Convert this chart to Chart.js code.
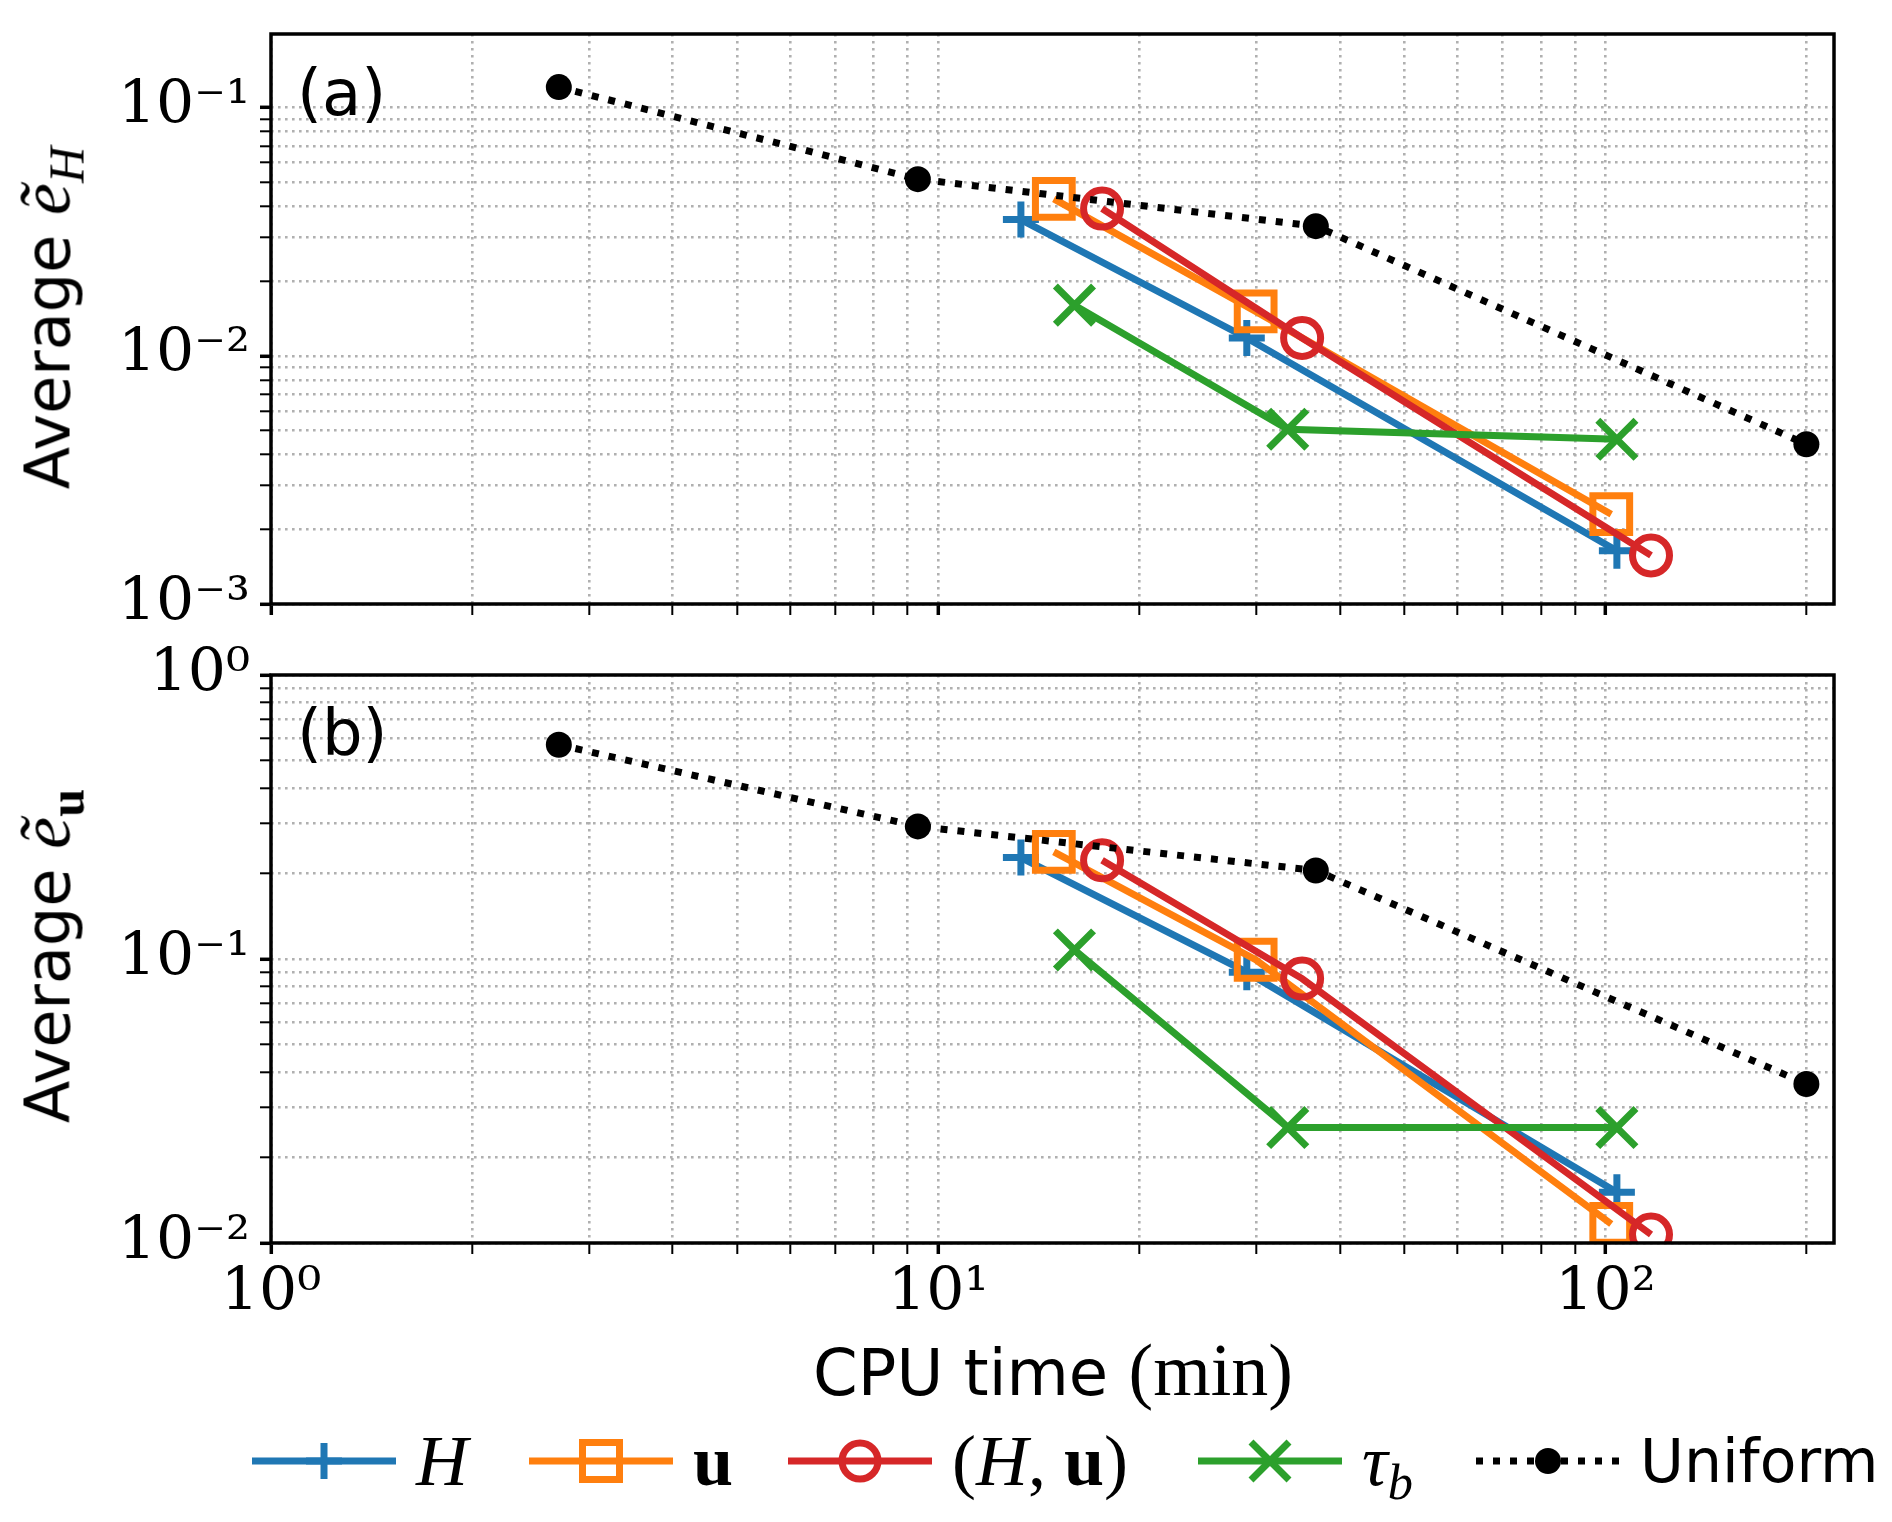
<!DOCTYPE html>
<html>
<head>
<meta charset="utf-8">
<script src="https://cdn.jsdelivr.net/npm/chart.js@4.4.1/dist/chart.umd.min.js"></script>
<style>
  body { margin: 0; width: 1892px; height: 1522px; background: #fff; position: relative; overflow: hidden; font-family: 'DejaVu Sans', sans-serif; color: #000; }
  canvas { position: absolute; left: 0; }
  #chart_a { top: 0; }
  #chart_b { top: 641px; }
  .lbl { position: absolute; white-space: nowrap; }
  .ytitle { font-size: 62px; transform: translate(-50%, -50%) rotate(-90deg); }
  .serif { font-family: 'Liberation Serif', 'DejaVu Serif', serif; font-size: 72px; }
  .serif sub { font-size: 70%; vertical-align: -0.28em; line-height: 0; }
  .panel { font-size: 64px; transform: translateY(-50%); }
  #xtitle { font-size: 64px; transform: translate(-50%, -50%); }
  #xtitle .serif { font-size: 74px; }
  .item { position: absolute; top: 1431px; height: 60px; display: flex; align-items: center; }
  .item svg { display: block; }
  .item span { margin-left: 20px; line-height: 1; }
  .uni { font-size: 60px; }
</style>
</head>
<body>
<canvas id="chart_a" width="1892" height="644"></canvas>
<canvas id="chart_b" width="1892" height="700"></canvas>

<div class="lbl ytitle" style="left:46px; top:318px;">Average <span class="serif"><i>ẽ</i><sub><i>H</i></sub></span></div>
<div class="lbl ytitle" style="left:46px; top:956px;">Average <span class="serif"><i>ẽ</i><sub><b>u</b></sub></span></div>
<div class="lbl panel" style="left:297px; top:93px;">(a)</div>
<div class="lbl panel" style="left:297px; top:733px;">(b)</div>
<div class="lbl" id="xtitle" style="left:1053px; top:1370px;">CPU time <span class="serif">(min)</span></div>

<div class="item" style="left:252px;">
  <svg width="144" height="60"><line x1="0" y1="30" x2="144" y2="30" stroke="#1f77b4" stroke-width="7"/><path d="M54 30H90M72 12V48" stroke="#1f77b4" stroke-width="7"/></svg>
  <span class="serif"><i>H</i></span>
</div>
<div class="item" style="left:529px;">
  <svg width="144" height="60"><line x1="0" y1="30" x2="144" y2="30" stroke="#ff7f0e" stroke-width="7"/><rect x="53.5" y="11.5" width="37" height="37" fill="none" stroke="#ff7f0e" stroke-width="7"/></svg>
  <span class="serif"><b>u</b></span>
</div>
<div class="item" style="left:788px;">
  <svg width="144" height="60"><line x1="0" y1="30" x2="144" y2="30" stroke="#d62728" stroke-width="7"/><circle cx="72" cy="30" r="18" fill="none" stroke="#d62728" stroke-width="7"/></svg>
  <span class="serif">(<i>H</i>, <b>u</b>)</span>
</div>
<div class="item" style="left:1198px;">
  <svg width="144" height="60"><line x1="0" y1="30" x2="144" y2="30" stroke="#2ca02c" stroke-width="7"/><path d="M53 11L91 49M53 49L91 11" stroke="#2ca02c" stroke-width="7"/></svg>
  <span class="serif"><i>τ</i><sub><i>b</i></sub></span>
</div>
<div class="item" style="left:1476px;">
  <svg width="144" height="60"><line x1="0" y1="30" x2="144" y2="30" stroke="#000" stroke-width="7" stroke-dasharray="7 10"/><circle cx="72" cy="30" r="13" fill="#000"/></svg>
  <span class="uni">Uniform</span>
</div>

<script>
// CPU time (min) of each run
const cpu_H = [13.3, 29.0, 104];
const cpu_u = [14.9, 29.9, 102];
const cpu_Hu = [17.6, 35.1, 117];
const cpu_tau = [16.0, 33.4, 104];
const cpu_uniform = [2.70, 9.32, 36.8, 200];

// panel (a): average e_H
const eH_H = [0.0354, 0.0118, 0.00164];
const eH_u = [0.0429, 0.0151, 0.0023];
const eH_Hu = [0.0392, 0.0118, 0.00157];
const eH_tau = [0.0160, 0.00506, 0.00461];
const eH_uniform = [0.121, 0.0515, 0.0333, 0.0044];

// panel (b): average e_u
const eu_H = [0.2275, 0.0899, 0.0151];
const eu_u = [0.2385, 0.0994, 0.01167];
const eu_Hu = [0.2226, 0.0853, 0.01071];
const eu_tau = [0.1076, 0.0255, 0.0255];
const eu_uniform = [0.568, 0.293, 0.205, 0.0363];

// tick labels (decades only)
const x_tick_values = [1, 10, 100];
const x_tick_labels = ['10⁰', '10¹', '10²'];
const ya_tick_values = [0.001, 0.01, 0.1];
const ya_tick_labels = ['10⁻³', '10⁻²', '10⁻¹'];
const yb_tick_values = [0.01, 0.1, 1];
const yb_tick_labels = ['10⁻²', '10⁻¹', '10⁰'];

const x_range = [1, 220];
const ya_range = [0.001, 0.198];
const yb_range = [0.01, 1];

function to_points(xs, ys) {
  return xs.map((x, i) => ({x: x, y: ys[i]}));
}

function is_decade(v) {
  if (!v) return false;
  const e = Math.log10(v);
  return Math.abs(e - Math.round(e)) < 1e-6;
}

// 1..9 x 10^n between min and max
function log_ticks(min, max) {
  let out = [];
  for (let e = Math.floor(Math.log10(min)); e <= Math.ceil(Math.log10(max)); e++) {
    for (let k = 1; k <= 9; k++) {
      const v = Number((k * Math.pow(10, e)).toPrecision(8));
      if (v >= min * 0.9999 && v <= max * 1.0001) out.push({value: v});
    }
  }
  return out;
}

function label_from(values, labels) {
  return function(value) {
    const i = values.findIndex(v => Math.abs(v - value) / v < 1e-6);
    return i >= 0 ? labels[i] : '';
  };
}

function log_axis(range, values, labels, show_labels, size) {
  return {
    type: 'logarithmic',
    min: range[0],
    max: range[1],
    afterBuildTicks: scale => { scale.ticks = log_ticks(range[0], range[1]); },
    afterFit: scale => {
      if (scale.isHorizontal()) scale.height = size; else scale.width = size;
      scale.paddingTop = 0; scale.paddingBottom = 0;
      scale.paddingLeft = 0; scale.paddingRight = 0;
    },
    grid: {
      color: '#b0b0b0',
      lineWidth: 2.6,
      tickLength: 11,
      tickColor: '#000',
      tickWidth: c => is_decade(c.tick && c.tick.value) ? 3.5 : 2
    },
    border: { display: false, dash: [2.6, 4.4] },
    ticks: {
      display: show_labels,
      autoSkip: false,
      maxRotation: 0,
      padding: c => 10,
      color: '#000',
      font: { family: "'DejaVu Serif', serif", size: 60, lineHeight: 1 },
      callback: label_from(values, labels)
    }
  };
}

const frame_plugin = {
  id: 'frame',
  afterDatasetsDraw(chart) {
    const {ctx, chartArea} = chart;
    ctx.save();
    ctx.strokeStyle = '#000';
    ctx.lineWidth = 3.5;
    ctx.strokeRect(chartArea.left, chartArea.top, chartArea.right - chartArea.left, chartArea.bottom - chartArea.top);
    ctx.restore();
  }
};

function make_datasets(H, u, Hu, tau, uniform) {
  const base = { showLine: true, borderWidth: 7, pointBorderWidth: 7, clip: 0, tension: 0, pointBackgroundColor: 'rgba(0,0,0,0)' };
  return [
    Object.assign({}, base, { label: 'H', data: to_points(cpu_H, H), borderColor: '#1f77b4', pointBorderColor: '#1f77b4', pointStyle: 'cross', pointRadius: 18, order: 5 }),
    Object.assign({}, base, { label: 'u', data: to_points(cpu_u, u), borderColor: '#ff7f0e', pointBorderColor: '#ff7f0e', pointStyle: 'rect', pointRadius: 26, order: 4 }),
    Object.assign({}, base, { label: '(H,u)', data: to_points(cpu_Hu, Hu), borderColor: '#d62728', pointBorderColor: '#d62728', pointStyle: 'circle', pointRadius: 18.5, order: 3 }),
    Object.assign({}, base, { label: 'tau_b', data: to_points(cpu_tau, tau), borderColor: '#2ca02c', pointBorderColor: '#2ca02c', pointStyle: 'crossRot', pointRadius: 27, order: 2 }),
    Object.assign({}, base, { label: 'Uniform', data: to_points(cpu_uniform, uniform), borderColor: '#000', borderDash: [7, 10], pointStyle: 'circle', pointRadius: 13, pointBorderWidth: 0, pointBackgroundColor: '#000', order: 1 })
  ];
}

function make_chart(id, datasets, y_range, y_values, y_labels, x_labels, x_height) {
  return new Chart(document.getElementById(id), {
    type: 'scatter',
    data: { datasets: datasets },
    options: {
      responsive: false,
      animation: false,
      events: [],
      layout: { padding: { top: 22, right: 58, left: 0, bottom: 0 } },
      plugins: { legend: { display: false }, tooltip: { enabled: false } },
      scales: {
        x: log_axis(x_range, x_tick_values, x_tick_labels, x_labels, x_height),
        y: log_axis(y_range, y_values, y_labels, true, 271)
      }
    },
    plugins: [frame_plugin]
  });
}

Chart.defaults.font.family = "'DejaVu Sans', sans-serif";

make_chart('chart_a', make_datasets(eH_H, eH_u, eH_Hu, eH_tau, eH_uniform), ya_range, ya_tick_values, ya_tick_labels, false, 40);
make_chart('chart_b', make_datasets(eu_H, eu_u, eu_Hu, eu_tau, eu_uniform), yb_range, yb_tick_values, yb_tick_labels, true, 98);
</script>
</body>
</html>
